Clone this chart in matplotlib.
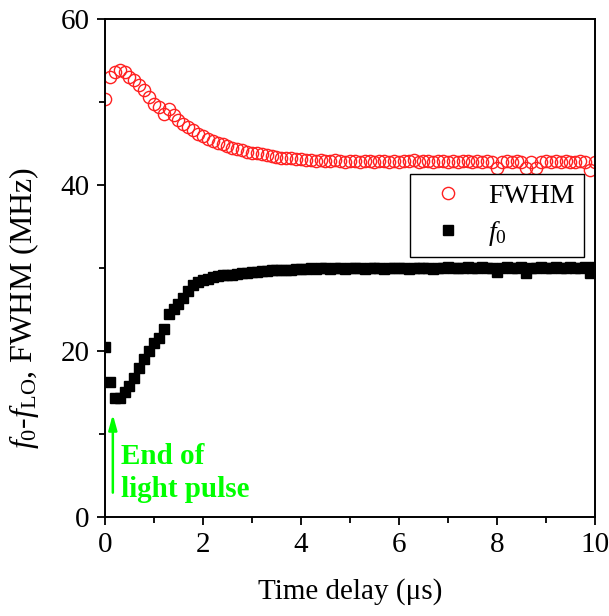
import numpy as np
import matplotlib
matplotlib.use("Agg")
import matplotlib.pyplot as plt
from matplotlib.ticker import MultipleLocator

plt.rcParams['font.family'] = ['Liberation Serif', 'DejaVu Serif']
plt.rcParams['mathtext.fontset'] = 'custom'
plt.rcParams['mathtext.rm'] = 'Liberation Serif'
plt.rcParams['mathtext.it'] = 'Liberation Serif:italic'
plt.rcParams['mathtext.bf'] = 'Liberation Serif:bold'

time_us = [round(0.1 * i, 1) for i in range(101)]

fwhm = [50.4, 53.0, 53.6, 53.9, 53.6, 53.0, 52.7, 52.0, 51.4, 50.6,
        49.8, 49.4, 48.6, 49.2, 48.4, 47.8, 47.4, 47.0, 46.6, 46.2,
        45.9, 45.6, 45.3, 45.1, 44.9, 44.7, 44.5, 44.3, 44.2, 44.0,
        43.9, 43.9, 43.7, 43.6, 43.5, 43.4, 43.3, 43.3, 43.2, 43.1,
        43.1, 43.0, 43.0, 42.9, 43.0, 42.9, 42.9, 43.0, 42.9, 42.8,
        42.9, 42.9, 42.8, 42.9, 42.9, 42.8, 42.9, 42.9, 42.8, 42.9,
        42.8, 42.9, 42.9, 43.0, 42.8, 42.9, 42.9, 42.8, 42.9, 42.9,
        42.8, 42.9, 42.8, 42.9, 42.9, 42.8, 42.9, 42.8, 42.9, 42.8,
        42.1, 42.8, 42.9, 42.8, 42.9, 42.8, 42.1, 42.8, 42.0, 42.8,
        42.9, 42.8, 42.9, 42.8, 42.9, 42.8, 42.8, 42.9, 42.8, 41.8,
        42.8]

f0 = [20.5, 16.3, 14.3, 14.3, 15.0, 15.8, 16.7, 18.0, 19.0, 20.0,
      21.0, 21.6, 22.7, 24.5, 25.1, 25.7, 26.4, 27.2, 27.9, 28.3,
      28.5, 28.7, 28.9, 29.0, 29.1, 29.2, 29.2, 29.3, 29.4, 29.4,
      29.5, 29.5, 29.6, 29.6, 29.7, 29.7, 29.8, 29.8, 29.8, 29.9,
      29.9, 29.9, 30.0, 29.9, 30.0, 30.0, 29.9, 30.0, 30.0, 29.9,
      30.0, 30.0, 30.0, 29.9, 30.0, 30.0, 30.0, 29.9, 30.0, 30.0,
      30.0, 30.0, 29.9, 30.0, 30.0, 30.0, 30.0, 29.9, 30.0, 30.0,
      30.1, 30.0, 30.0, 30.0, 30.1, 30.0, 30.0, 30.1, 30.0, 30.0,
      29.5, 30.0, 30.1, 30.0, 30.0, 30.1, 29.4, 30.0, 30.0, 30.1,
      30.0, 30.0, 30.1, 30.0, 30.0, 30.1, 30.0, 30.0, 30.1, 29.4,
      30.1]

fig = plt.figure(figsize=(6.09, 6.16), dpi=100)
ax = fig.add_axes([0.1724, 0.1607, 0.8046, 0.8085])

ax.plot(time_us, fwhm, linestyle='none', marker='o', markersize=8.8,
        markerfacecolor='none', markeredgecolor='#ff2020', markeredgewidth=1.0,
        label='FWHM')
ax.plot(time_us, f0, linestyle='none', marker='s', markersize=7.4,
        color='black', label='$f_0$')

ax.set_xlim(0, 10)
ax.set_ylim(0, 60)
ax.xaxis.set_major_locator(MultipleLocator(2))
ax.xaxis.set_minor_locator(MultipleLocator(1))
ax.yaxis.set_major_locator(MultipleLocator(20))
ax.yaxis.set_minor_locator(MultipleLocator(10))
ax.tick_params(which='both', direction='out', top=False, right=False,
               labelsize=21, width=1.3)
ax.tick_params(which='major', length=6, pad=5)
ax.tick_params(which='minor', length=4)
for s in ax.spines.values():
    s.set_linewidth(1.4)

ax.set_xlabel('Time delay (\u03bcs)', fontsize=21, labelpad=14)
ax.set_ylabel('$f_0$-$f_{\\rm LO}$, FWHM (MHz)', fontsize=23)
ax.yaxis.set_label_coords(-0.13, 0.42)

leg = ax.legend(loc='upper right', bbox_to_anchor=(0.978, 0.689),
                borderaxespad=0, fontsize=20, fancybox=False,
                edgecolor='black', framealpha=1, handletextpad=0.45,
                borderpad=0.35, labelspacing=0.35, handlelength=2.0)
leg.get_frame().set_linewidth(1.0)

ax.annotate('', xy=(0.16, 12.7), xytext=(0.16, 2.6),
            arrowprops=dict(arrowstyle='-|>,head_width=0.25,head_length=0.9',
                            color='#00ff00', lw=1.8))
ax.text(0.33, 5.3, 'End of\nlight pulse', color='#00ff00', fontsize=21,
        fontweight='bold', va='center', ha='left', linespacing=1.25)

fig.savefig('out.png', dpi=100)
